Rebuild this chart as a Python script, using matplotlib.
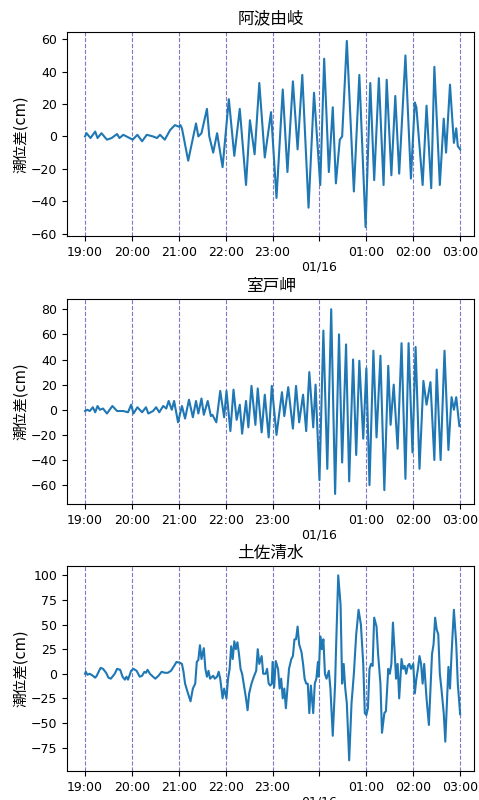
import pandas as pd
import matplotlib
matplotlib.use('Agg')
import matplotlib.pyplot as plt
import matplotlib.dates as mdates
import matplotlib.ticker as ticker

plt.rcParams['font.family'] = ['DejaVu Sans', 'Noto Sans CJK JP']

# ── Data (minutes after 2022-01-15 19:00, tide anomaly in cm) ────────────────

START = pd.Timestamp("2022-01-15 19:00")

awa_min = [0, 2, 7, 13, 16, 21, 28, 34, 41, 44, 49, 55, 61, 67, 73, 79, 87, 92, 96, 102,
           109, 115, 120, 122, 124, 132, 142, 145, 149, 156, 159, 164, 169, 176, 184, 191,
           198, 206, 211, 217, 223, 230, 238, 245, 253, 259, 266, 272, 278, 286, 293, 301,
           306, 312, 317, 321, 326, 329, 335, 344, 351, 359, 365, 370, 376, 382, 386, 392,
           397, 402, 410, 417, 422, 424, 432, 437, 443, 447, 454, 459, 462, 467, 472, 475,
           477, 480]
awa_cm = [0, 2, -1, 3, -1, 2, -2, -1, 1.5, -1, 1, -0.5, -2, 1, -3, 1, 0, -1, 1, -2,
          4, 7, 6, 7, 5, -15, 8, 0, 2, 17, 0, -10, 2, -19, 23, -12,
          17, -30, 10, -11, 33, -13, 15, -38, 29, -22, 34, -8, 38, -44, 27, -30,
          48, -22, 18, -29, -2, 0, 59, -34, 38, -56, 33, -27, 36, -30, 35, -24,
          25, -23, 50, -26, 21, 18, -30, 19, -32, 43, -30, 11, -10, 32, -4, 5,
          -6, -8]

muroto_min = [0, 3, 6, 10, 13, 16, 19, 23, 28, 35, 41, 49, 55, 59, 62, 67, 73, 78, 81, 87,
              91, 95, 100, 104, 107, 111, 114, 119, 124, 128, 133, 138, 142, 145, 149, 152,
              157, 161, 163, 168, 173, 178, 181, 186, 190, 194, 198, 201, 206, 209, 213, 218,
              221, 226, 230, 235, 239, 245, 252, 255, 260, 266, 270, 274, 279, 283, 287, 292,
              295, 300, 305, 310, 315, 320, 325, 329, 334, 338, 343, 347, 351, 356, 360, 364,
              369, 373, 378, 383, 388, 391, 395, 400, 405, 410, 414, 419, 423, 428, 433, 437,
              442, 447, 450, 455, 460, 465, 469, 472, 475, 479]
muroto_cm = [-1, 0, -1, 2, -2, 3, 0, 1, -3, 3, -1, -1, -2, 4, -3, 2, -2, 2, -3, -1,
             2, -2, 3, 1, 7, 0, 7, -10, 3, -7, 8, -6, 7, -3, 9, -4,
             7, -5, -4, -10, 15, -6, 15, -17, 16, -8, 4, -19, 7, -14, 19, -12,
             17, -18, 12, -22, 19, -20, 14, -5, 18, -15, 19, -10, 12, -17, 30, -14,
             20, -56, 63, -47, 80, -67, 60, -42, 52, -57, 40, -36, 39, -23, 33, -60,
             47, -22, 43, -64, 35, -12, 20, -31, 53, -55, 53, -34, 50, -47, 23, 4,
             22, -40, 32, -40, 47, -32, 10, 0, 10, -13]

tosa_min = [0, 1, 3, 6, 10, 13, 15, 18, 20, 23, 27, 30, 33, 38, 41, 45, 48, 51, 53, 55,
            59, 62, 66, 70, 73, 76, 78, 80, 83, 87, 90, 94, 98, 102, 106, 110, 114, 117,
            122, 124, 126, 128, 131, 135, 138, 141, 143, 145, 147, 149, 152, 154, 156, 158,
            160, 164, 166, 169, 171, 173, 176, 178, 181, 183, 185, 187, 189, 191, 193, 195,
            197, 199, 201, 204, 206, 208, 210, 213, 216, 219, 221, 223, 226, 228, 231, 233,
            235, 237, 239, 240, 242, 244, 247, 249, 251, 253, 255, 257, 259, 261, 264, 266,
            268, 270, 272, 274, 277, 279, 281, 283, 285, 287, 289, 292, 294, 296, 298, 299,
            301, 303, 305, 307, 309, 312, 314, 317, 320, 321, 324, 327, 329, 331, 333, 335,
            338, 341, 344, 347, 350, 353, 356, 358, 360, 362, 364, 366, 368, 370, 373, 375,
            378, 380, 383, 385, 388, 390, 392, 394, 396, 398, 400, 402, 405, 407, 409, 411,
            413, 415, 417, 420, 422, 424, 426, 428, 430, 432, 434, 437, 440, 442, 444, 446,
            448, 450, 452, 454, 456, 459, 461, 463, 465, 467, 469, 472, 475, 477, 480]
tosa_cm = [0, 2, -1, 0, -2, -4, -2, 3, 6, 5, 1, -4, -5, 0, 5, 4, -3, -6, -3, -6,
           3, 5, 3, -3, -2, 2, 1, 4, 0, -3, -5, -2, 2, 1, 1, 3, 8, 12,
           11, 10, 2, -10, -18, -28, -15, -10, 12, 14, 29, 15, 26, 5, -3, 3,
           -5, -2, -5, -3, 2, -5, -25, -15, -25, -5, 5, 28, 15, 33, 25, 32,
           20, 5, 0, -15, -25, -37, -20, -10, -3, 3, 25, 10, 18, 0, 0, 5,
           -10, -12, -10, 12, -14, 13, 5, -15, -5, -25, -15, -35, -15, 5, 15, 18,
           35, 35, 48, 30, 22, 10, -5, -10, -10, -40, -12, -40, -10, -5, 12, -3,
           38, 25, 35, 0, -5, 3, -15, -63, -10, 20, 100, 70, -10, 10, -15, -30,
           -88, -30, 0, 40, 65, 50, 10, -40, -42, -35, 5, 10, 8, 57, 48, 20,
           -10, -60, -40, -38, 5, 0, 10, 52, 25, -5, 10, -25, 15, 5, 8, 0,
           8, 10, 5, 10, -20, -5, 5, 18, 10, -10, 10, -25, -52, -15, 20, 30,
           57, 45, 40, 0, -15, -40, -69, -30, 7, -15, 20, 65, 30, -10, -41]

stations = ["阿波由岐", "室戸岬", "土佐清水"]
series = [(awa_min, awa_cm), (muroto_min, muroto_cm), (tosa_min, tosa_cm)]
ylims = [(-61.5, 64.5), (-75, 88), (-99, 109.5)]
yticks = [range(-60, 61, 20), range(-60, 81, 20), range(-75, 101, 25)]

hours = pd.date_range("2022-01-15 19:00", "2022-01-16 03:00", freq="h")


def hour_label(x, _):
    t = mdates.num2date(x)
    if t.hour == 0:
        return "\n01/16"
    return t.strftime("%H:%M")


# ── Plot ─────────────────────────────────────────────────────────────────────

fig = plt.figure(figsize=(4.79, 8.0), dpi=100)
boxes = [[0.140, 0.705, 0.850, 0.255],
         [0.140, 0.370, 0.850, 0.256],
         [0.140, 0.036, 0.850, 0.2565]]

for box, name, (mins, cm), ylim, yt in zip(boxes, stations, series, ylims, yticks):
    ax = fig.add_axes(box)
    t = START + pd.to_timedelta(mins, unit="min")
    for h in hours:
        ax.axvline(h, color="#6c6cc0", linestyle="--", linewidth=0.8, alpha=0.9)
    ax.plot(t, cm, color="#1f77b4", linewidth=1.5)
    ax.set_xlim(START - pd.Timedelta(minutes=23), START + pd.Timedelta(minutes=498))
    ax.set_ylim(*ylim)
    ax.set_yticks(list(yt))
    ax.set_xticks(hours)
    ax.xaxis.set_major_formatter(ticker.FuncFormatter(hour_label))
    ax.tick_params(labelsize=9)
    ax.set_title(name, fontsize=12)
    ax.set_ylabel("潮位差(cm)", fontsize=10.5, labelpad=2)

fig.savefig("out.png", dpi=100)
